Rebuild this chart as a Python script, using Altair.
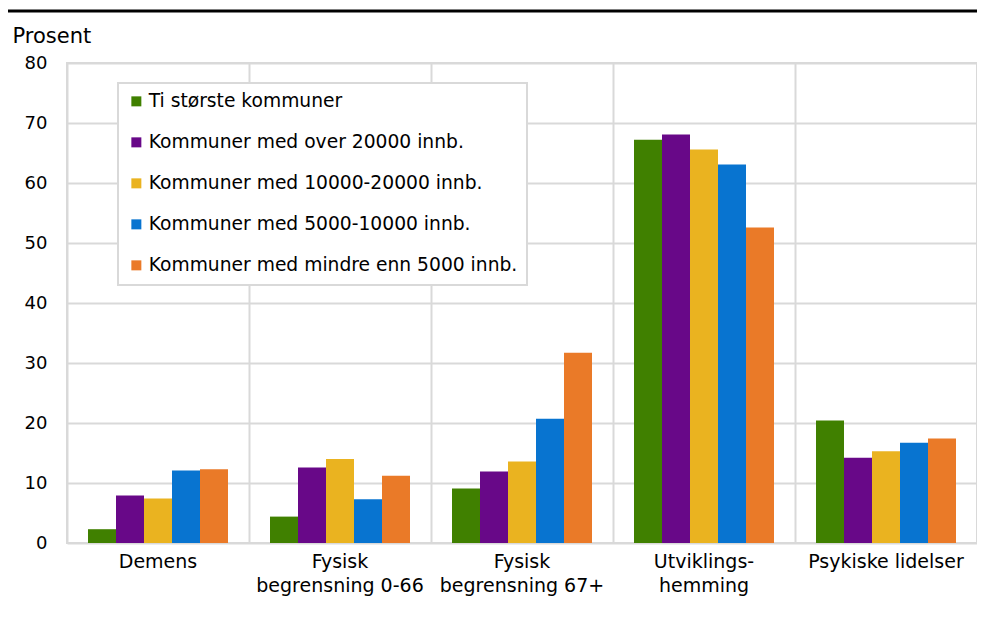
import altair as alt
import pandas as pd

categories = ["Demens", "Fysisk\nbegrensning 0-66", "Fysisk\nbegrensning 67+",
              "Utviklings-\nhemming", "Psykiske lidelser"]
series = ["Ti største kommuner", "Kommuner med over 20000 innb.",
          "Kommuner med 10000-20000 innb.", "Kommuner med 5000-10000 innb.",
          "Kommuner med mindre enn 5000 innb."]
colors = ["#408000", "#680888", "#EAB320", "#0874D0", "#EA7A28"]

ti_storste = [2.3, 4.4, 9.1, 67.2, 20.4]
over_20000 = [7.9, 12.6, 11.9, 68.1, 14.2]
med_10000_20000 = [7.4, 14.0, 13.6, 65.6, 15.3]
med_5000_10000 = [12.1, 7.3, 20.7, 63.1, 16.7]
under_5000 = [12.3, 11.2, 31.7, 52.6, 17.4]

y_ticks = [0, 10, 20, 30, 40, 50, 60, 70, 80]

rows = []
for s, vals in zip(series, [ti_storste, over_20000, med_10000_20000, med_5000_10000, under_5000]):
    for c, v in zip(categories, vals):
        rows.append({"kategori": c, "serie": s, "verdi": v})
df = pd.DataFrame(rows)

FONT = "DejaVu Sans"

bars = alt.Chart(df).mark_bar().encode(
    x=alt.X("kategori:N", sort=categories, title=None,
            scale=alt.Scale(paddingInner=0, paddingOuter=0),
            axis=alt.Axis(labelAngle=0, labelExpr="split(datum.label, '\\n')",
                          grid=True, bandPosition=0,
                          gridColor="#d9d9d9", gridWidth=2, domain=False,
                          ticks=False, tickSize=0, labelPadding=9,
                          labelFontSize=19, labelFont=FONT, labelColor="#000000",
                          labelLineHeight=24, labelBaseline="top")),
    xOffset=alt.XOffset("serie:N", sort=series,
                        scale=alt.Scale(paddingInner=0, paddingOuter=0.75)),
    y=alt.Y("verdi:Q", scale=alt.Scale(domain=[0, 80], nice=False),
            axis=alt.Axis(values=y_ticks, title="Prosent", titleAngle=0,
                          titleAlign="left", titleBaseline="alphabetic",
                          titleX=-55, titleY=-21, titleFontSize=21,
                          titleFontWeight="normal", titleFont=FONT, titleColor="#000000",
                          grid=True, gridColor="#d9d9d9", gridWidth=2,
                          domain=False, ticks=False, tickSize=0, labelPadding=20,
                          labelFontSize=18, labelFont=FONT, labelColor="#000000")),
    color=alt.Color("serie:N", sort=series,
                    scale=alt.Scale(domain=series, range=colors),
                    legend=alt.Legend(title=None, orient="none", legendX=51, legendY=20,
                                      padding=9, strokeColor="#d9d9d9", fillColor="#ffffff",
                                      labelFontSize=18.7, labelFont=FONT, labelColor="#000000",
                                      symbolType="square", symbolSize=100,
                                      symbolStrokeWidth=0, rowPadding=21, labelOffset=3,
                                      labelLimit=500)),
)

top_line = alt.Chart(pd.DataFrame({"a": [0]})).mark_rule(color="#000000", strokeWidth=3).encode(
    x=alt.value(-59), x2=alt.value(910), y=alt.value(-52)
)

chart = alt.layer(bars, top_line).properties(
    width=910, height=480,
    autosize=alt.AutoSizeParams(type="none"),
    padding={"left": 59, "top": 55, "right": 0, "bottom": 60},
).configure_view(stroke="#d9d9d9", strokeWidth=2).configure_legend(
    strokeWidth=2
)

chart.save("out.html", embed_options={"renderer": "svg", "actions": False})
